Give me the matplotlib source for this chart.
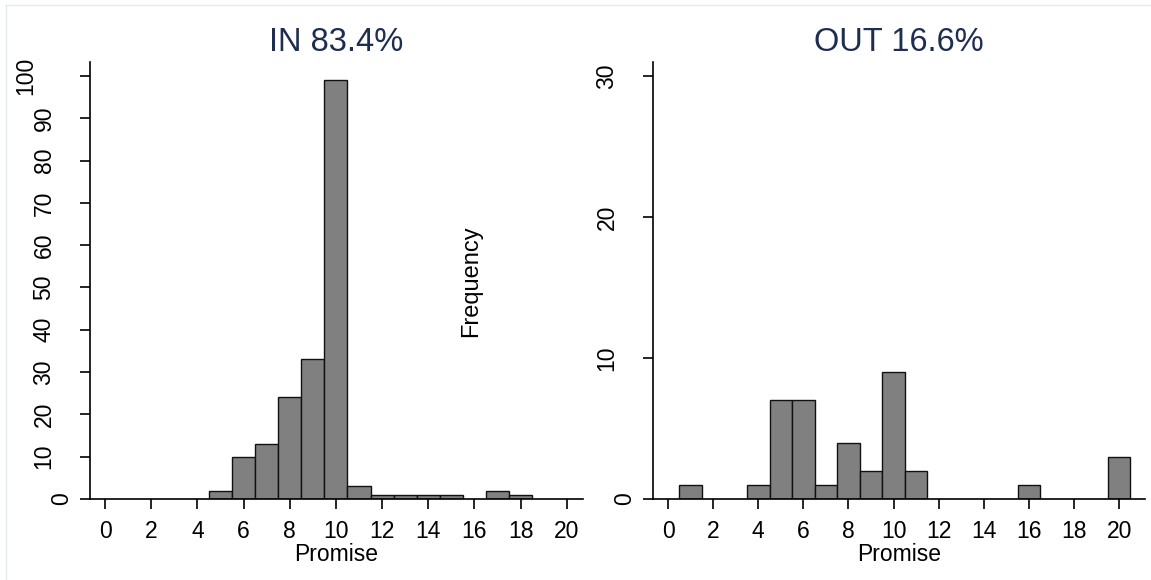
import numpy as np
import matplotlib
matplotlib.use('Agg')
import matplotlib.pyplot as plt
import matplotlib.transforms as mtrans
from matplotlib.lines import Line2D

plt.rcParams['font.family'] = ['Liberation Sans', 'DejaVu Sans']

# Data läst från bilden: heltal Promise -> frekvens
in_promise = [5, 6, 7, 8, 9, 10, 11, 12, 13, 14, 15, 17, 18]
in_freq = [2, 10, 13, 24, 33, 99, 3, 1, 1, 1, 1, 2, 1]
out_promise = [1, 4, 5, 6, 7, 8, 9, 10, 11, 16, 20]
out_freq = [1, 1, 7, 7, 1, 4, 2, 9, 2, 1, 3]

titles = ['IN 83.4%', 'OUT 16.6%']
x_ticks = list(range(0, 21, 2))
in_yticks = [0, 10, 20, 30, 40, 50, 60, 70, 80, 90, 100]
out_yticks = [0, 10, 20, 30]

DPI = 100
W, H = 1151, 580
fig = plt.figure(figsize=(W / DPI, H / DPI), dpi=DPI)

# ramen runt figuren (svag)
fig.add_artist(Line2D([6 / W, 1], [1 - 5 / H, 1 - 5 / H], color='#e4eaee', lw=1))
fig.add_artist(Line2D([6 / W, 6 / W], [0, 1 - 5 / H], color='#e4eaee', lw=1))

panels = [
    ([90, 583], in_promise, in_freq, in_yticks, (-0.65, 20.7), 103.3, titles[0]),
    ([653, 1145], out_promise, out_freq, out_yticks, (-0.67, 21.15), 31.0, titles[1]),
]

for (x0, x1), xs, ys, yt, xlim, ytop, title in panels:
    ax = fig.add_axes([x0 / W, (H - 499) / H, (x1 - x0) / W, 437 / H])
    ax.bar(xs, ys, width=1.0, color='#808080', edgecolor='#111111', linewidth=1.0)
    ax.set_xlim(*xlim)
    ax.set_ylim(0, ytop)
    for s in ['top', 'right']:
        ax.spines[s].set_visible(False)
    ax.spines['left'].set_linewidth(1.2)
    ax.spines['bottom'].set_linewidth(1.2)
    ax.set_xticks(x_ticks)
    ax.tick_params(axis='x', length=7, width=1.2, pad=8, labelsize=16.5)
    ax.set_yticks(yt)
    ax.tick_params(axis='y', length=7.5, width=1.2, labelleft=False)
    ax.set_xlabel('Promise', fontsize=16.5, labelpad=0)
    ax.set_title(title, fontsize=23.5, color='#1f2d50', pad=8)
    # roterade y-etiketter, förskjutna efter längd som i originalet
    for v in yt:
        lab = str(v)
        dx = -(19 + 18 * (len(lab) - 1) + 9) / DPI
        tr = mtrans.blended_transform_factory(ax.transAxes, ax.transData) + \
            mtrans.ScaledTranslation(dx, 0, fig.dpi_scale_trans)
        ax.text(0, v, lab, transform=tr, rotation=90, ha='center', va='center',
                fontsize=16.5)

fig.text(471 / W, 1 - 281 / H, 'Frequency', rotation=90, ha='center', va='center',
         fontsize=17)

fig.savefig('out.png', dpi=DPI)
